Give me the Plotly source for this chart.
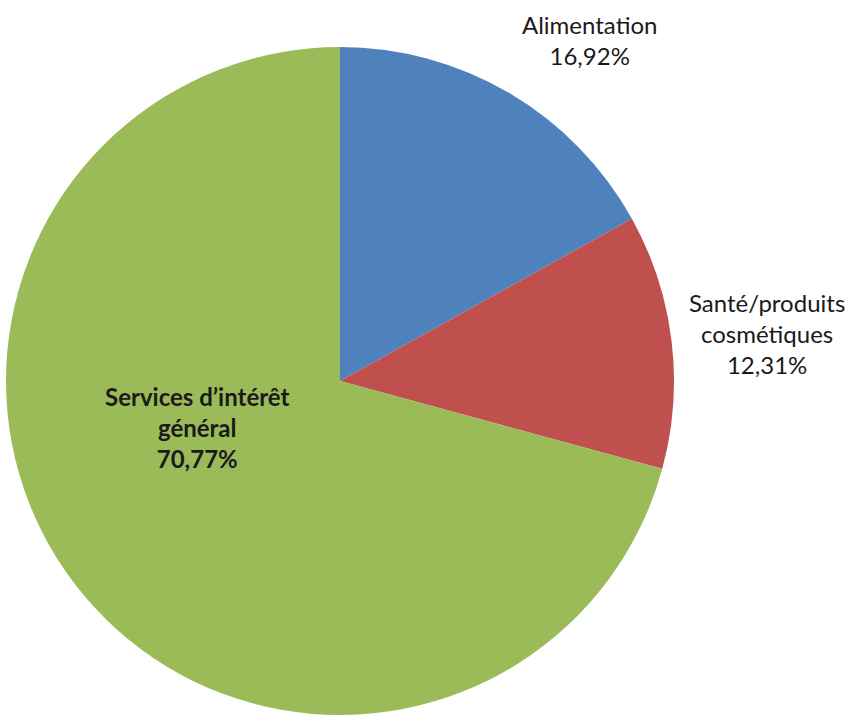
import plotly.graph_objects as go

labels = ["Alimentation", "Santé/produits cosmétiques", "Services d’intérêt général"]
label_lines = [["Alimentation"], ["Santé/produits", "cosmétiques"], ["Services d’intérêt", "général"]]
values = [16.92, 12.31, 70.77]
colors = ["#4F81BD", "#C0504D", "#9BBB59"]

W, H = 851, 721
cx, cy, r = 340, 381, 334

fig = go.Figure(go.Pie(
    labels=labels, values=values, sort=False, direction="clockwise", rotation=0,
    marker=dict(colors=colors, line=dict(width=0)),
    textinfo="none", hoverinfo="label+percent", showlegend=False,
    domain=dict(x=[(cx - r) / W, (cx + r) / W], y=[1 - (cy + r) / H, 1 - (cy - r) / H]),
))

def pct(v):
    return f"{v:.2f}".replace(".", ",") + "%"

# label placements (paper coords) and styles
pos = [(589, 40), (767, 333), (197, 428)]
bold = [False, False, True]
for lines, v, (px, py), b in zip(label_lines, values, pos, bold):
    txt = "<br>".join(lines + [pct(v)])
    if b:
        txt = "<b>" + txt + "</b>"
    fig.add_annotation(
        x=px / W, y=1 - py / H, xref="paper", yref="paper",
        text=txt, showarrow=False, xanchor="center", yanchor="middle",
        font=dict(family="Lato, sans-serif", size=24, color="#1a1a1a"),
    )

fig.update_layout(
    width=W, height=H, margin=dict(l=0, r=0, t=0, b=0),
    paper_bgcolor="white", plot_bgcolor="white",
)
fig.write_html("out.html")
